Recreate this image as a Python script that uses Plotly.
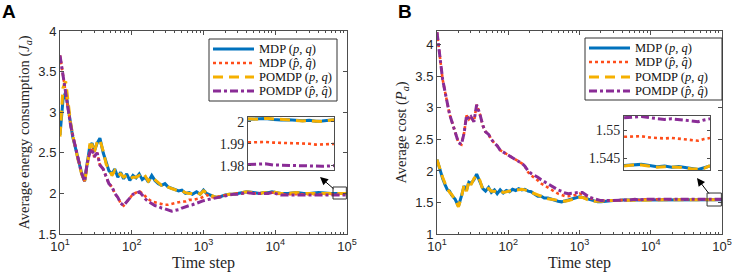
import plotly.graph_objects as go

# ---------------- data ----------------
t = [10, 11, 12, 13, 14, 15, 16, 18, 20, 22, 24, 26, 28, 30, 33, 36, 40, 44, 48, 53,
     58, 64, 70, 77, 85, 94, 104, 115, 127, 140, 155, 170, 190, 210, 235, 260, 290, 320,
     360, 400, 450, 500, 560, 630, 700, 800, 900, 1000, 1100, 1250, 1400, 1600, 1800,
     2000, 2300, 2600, 3000, 3500, 4000, 5000, 6000, 7000, 8000, 9000, 10000, 12000,
     15000, 20000, 25000, 30000, 40000, 50000, 60000, 70000, 80000, 90000, 100000]

# Panel A: average energy consumption
a_mdp = [2.72, 3.15, 3.25, 3.05, 2.85, 2.70, 2.60, 2.42, 2.25, 2.15, 2.35, 2.58, 2.62, 2.52, 2.62, 2.68, 2.50, 2.38, 2.28, 2.24,
         2.30, 2.20, 2.26, 2.18, 2.24, 2.16, 2.22, 2.19, 2.24, 2.17, 2.20, 2.14, 2.22, 2.16, 2.12, 2.10, 2.12, 2.08,
         2.06, 2.05, 2.03, 2.04, 2.00, 2.01, 1.99, 2.02, 1.99, 2.04, 2.00, 1.98, 1.96, 1.95, 1.97,
         1.98, 1.99, 1.99, 2.00, 2.01, 2.02, 2.01, 2.00, 2.01, 2.01, 2.02, 2.01, 2.00,
         2.00, 2.01, 2.00, 2.00, 2.01, 2.00, 2.00, 2.00, 2.00, 2.00, 2.00]
a_mdp_hat = [3.70, 3.45, 3.20, 3.00, 2.85, 2.72, 2.60, 2.42, 2.25, 2.15, 2.38, 2.50, 2.55, 2.45, 2.50, 2.35, 2.30, 2.20, 2.12, 2.08,
             2.00, 1.95, 1.88, 1.85, 1.90, 1.95, 1.99, 2.01, 2.03, 2.00, 1.96, 1.93, 1.90, 1.89, 1.88, 1.87, 1.86, 1.86,
             1.87, 1.88, 1.89, 1.90, 1.90, 1.92, 1.92, 1.93, 1.94, 1.96, 1.98, 1.96, 1.95, 1.96, 1.97,
             1.98, 1.99, 1.99, 2.00, 2.00, 2.01, 2.00, 2.00, 2.00, 2.00, 2.01, 2.00, 1.99,
             1.99, 1.99, 1.99, 1.99, 1.99, 1.99, 1.99, 1.99, 1.99, 1.99, 1.99]
a_pomdp = [2.70, 3.30, 3.38, 3.10, 2.88, 2.72, 2.60, 2.40, 2.24, 2.14, 2.33, 2.60, 2.60, 2.50, 2.64, 2.66, 2.52, 2.36, 2.30, 2.22,
           2.28, 2.22, 2.24, 2.20, 2.22, 2.18, 2.20, 2.20, 2.22, 2.18, 2.21, 2.15, 2.20, 2.17, 2.13, 2.10, 2.11, 2.08,
           2.06, 2.05, 2.03, 2.03, 2.01, 2.00, 2.00, 2.01, 1.99, 2.03, 2.01, 1.98, 1.96, 1.95, 1.97,
           1.98, 1.99, 1.99, 2.00, 2.01, 2.02, 2.01, 2.00, 2.01, 2.00, 2.02, 2.01, 2.00,
           2.00, 2.01, 2.00, 2.00, 2.00, 2.00, 2.00, 2.00, 2.00, 2.00, 2.00]
a_pomdp_hat = [3.70, 3.45, 3.20, 3.00, 2.85, 2.72, 2.60, 2.42, 2.25, 2.15, 2.38, 2.50, 2.55, 2.45, 2.50, 2.35, 2.30, 2.20, 2.12, 2.08,
               2.00, 1.95, 1.88, 1.85, 1.90, 1.95, 1.99, 2.00, 2.02, 1.98, 1.93, 1.90, 1.87, 1.85, 1.84, 1.82, 1.81, 1.80,
               1.78, 1.79, 1.80, 1.82, 1.83, 1.85, 1.86, 1.88, 1.90, 1.91, 1.92, 1.93, 1.94, 1.95, 1.96,
               1.97, 1.98, 1.99, 1.99, 2.00, 2.01, 2.00, 2.00, 2.00, 2.00, 2.01, 2.00, 1.98,
               1.98, 1.98, 1.98, 1.98, 1.98, 1.98, 1.98, 1.98, 1.98, 1.98, 1.98]

# Panel B: average cost
b_mdp = [2.18, 2.00, 1.88, 1.78, 1.70, 1.68, 1.62, 1.55, 1.44, 1.60, 1.76, 1.70, 1.82, 1.80, 1.86, 1.95, 1.83, 1.72, 1.68, 1.74,
         1.66, 1.70, 1.64, 1.70, 1.65, 1.69, 1.67, 1.71, 1.69, 1.72, 1.70, 1.71, 1.68, 1.67, 1.63, 1.60, 1.60, 1.57,
         1.57, 1.55, 1.54, 1.52, 1.51, 1.52, 1.54, 1.56, 1.57, 1.59, 1.58, 1.56, 1.54, 1.52, 1.51,
         1.51, 1.52, 1.52, 1.53, 1.53, 1.54, 1.54, 1.54, 1.54, 1.54, 1.54, 1.54, 1.54,
         1.544, 1.544, 1.544, 1.544, 1.544, 1.544, 1.544, 1.544, 1.544, 1.544, 1.544]
b_mdp_hat = [4.20, 3.75, 3.45, 3.25, 3.05, 2.90, 2.80, 2.60, 2.45, 2.42, 2.60, 2.88, 2.82, 2.86, 2.78, 3.05, 2.90, 2.72, 2.62, 2.58,
             2.50, 2.44, 2.40, 2.33, 2.30, 2.28, 2.25, 2.22, 2.18, 2.15, 2.12, 2.08, 1.98, 1.93, 1.89, 1.85, 1.80, 1.77,
             1.73, 1.70, 1.67, 1.64, 1.62, 1.60, 1.60, 1.61, 1.62, 1.64, 1.63, 1.60, 1.57, 1.55, 1.53,
             1.53, 1.53, 1.53, 1.54, 1.54, 1.54, 1.54, 1.55, 1.54, 1.55, 1.55, 1.55, 1.55,
             1.549, 1.549, 1.549, 1.549, 1.549, 1.549, 1.549, 1.549, 1.549, 1.549, 1.549]
b_pomdp = [2.18, 2.02, 1.90, 1.80, 1.72, 1.66, 1.63, 1.54, 1.43, 1.58, 1.78, 1.68, 1.84, 1.78, 1.88, 1.93, 1.85, 1.70, 1.70, 1.72,
           1.68, 1.68, 1.66, 1.68, 1.66, 1.67, 1.69, 1.70, 1.70, 1.70, 1.71, 1.70, 1.69, 1.66, 1.64, 1.61, 1.59, 1.58,
           1.56, 1.55, 1.54, 1.53, 1.52, 1.52, 1.53, 1.55, 1.57, 1.58, 1.58, 1.55, 1.53, 1.52, 1.52,
           1.51, 1.52, 1.53, 1.53, 1.53, 1.54, 1.54, 1.54, 1.54, 1.54, 1.54, 1.54, 1.54,
           1.544, 1.544, 1.544, 1.544, 1.544, 1.544, 1.544, 1.544, 1.544, 1.544, 1.544]
b_pomdp_hat = [4.20, 3.75, 3.45, 3.25, 3.05, 2.90, 2.80, 2.60, 2.45, 2.42, 2.60, 2.88, 2.82, 2.86, 2.78, 3.05, 2.90, 2.72, 2.62, 2.58,
               2.50, 2.44, 2.40, 2.33, 2.30, 2.28, 2.25, 2.22, 2.18, 2.15, 2.12, 2.08, 2.00, 1.96, 1.93, 1.90, 1.86, 1.83,
               1.79, 1.76, 1.73, 1.70, 1.68, 1.65, 1.64, 1.65, 1.65, 1.66, 1.66, 1.62, 1.58, 1.56, 1.54,
               1.53, 1.53, 1.53, 1.54, 1.54, 1.54, 1.54, 1.55, 1.54, 1.55, 1.55, 1.55, 1.55,
               1.552, 1.552, 1.552, 1.552, 1.552, 1.552, 1.552, 1.552, 1.552, 1.552, 1.552]

# Insets (zoom near the end of the horizon)
t_in = [64000, 67000, 70000, 73000, 76000, 79000, 82000, 85000, 88000, 91000, 94000, 97000, 100000]
ia_mdp = [2.0012, 2.0013, 2.0015, 2.0011, 2.0008, 2.0009, 2.0006, 2.0005, 2.0007, 2.0003, 2.0004, 2.0006, 2.0010]
ia_mdp_hat = [1.9906, 1.9907, 1.9908, 1.9905, 1.9904, 1.9903, 1.9901, 1.9900, 1.9900, 1.9896, 1.9897, 1.9897, 1.9899]
ia_pomdp = [2.0014, 2.0012, 2.0016, 2.0013, 2.0010, 2.0008, 2.0007, 2.0004, 2.0005, 2.0002, 2.0001, 2.0006, 2.0009]
ia_pomdp_hat = [1.9805, 1.9806, 1.9808, 1.9803, 1.9802, 1.9801, 1.9800, 1.9799, 1.9798, 1.9796, 1.9797, 1.9798, 1.9800]

ib_mdp = [1.5437, 1.5438, 1.5439, 1.5437, 1.5435, 1.5436, 1.5434, 1.5435, 1.5433, 1.5432, 1.5430, 1.5433, 1.5436]
ib_mdp_hat = [1.5488, 1.5489, 1.5489, 1.5487, 1.5486, 1.5485, 1.5486, 1.5485, 1.5484, 1.5482, 1.5481, 1.5484, 1.5486]
ib_pomdp = [1.5436, 1.5438, 1.5438, 1.5436, 1.5434, 1.5435, 1.5435, 1.5434, 1.5433, 1.5431, 1.5431, 1.5432, 1.5437]
ib_pomdp_hat = [1.5522, 1.5523, 1.5524, 1.5522, 1.5520, 1.5519, 1.5520, 1.5519, 1.5518, 1.5516, 1.5515, 1.5518, 1.5520]

names = ["MDP (<i>p</i>, <i>q</i>)", "MDP (<i>p̂</i>, <i>q̂</i>)",
         "POMDP (<i>p</i>, <i>q</i>)", "POMDP (<i>p̂</i>, <i>q̂</i>)"]

x_tickvals = [10, 100, 1000, 10000, 100000]
x_ticktext = ["10<sup>1</sup>", "10<sup>2</sup>", "10<sup>3</sup>", "10<sup>4</sup>", "10<sup>5</sup>"]

# ---------------- styles ----------------
BLUE, RED, YEL, PUR = "#0072BD", "#FF4D1A", "#F5B000", "#8A2C96"
styles = [dict(color=BLUE, width=3, dash="solid"),
          dict(color=RED, width=2.6, dash="dot"),
          dict(color=YEL, width=3, dash="10px,6px"),
          dict(color=PUR, width=3, dash="8px,3px,3px,3px")]

W, H = 733, 276
def px(x): return x / W
def py(y): return 1 - y / H

fig = go.Figure()

panels = [
    (t, [a_mdp, a_mdp_hat, a_pomdp, a_pomdp_hat], "x", "y"),
    (t, [b_mdp, b_mdp_hat, b_pomdp, b_pomdp_hat], "x2", "y2"),
    (t_in, [ia_mdp, ia_mdp_hat, ia_pomdp, ia_pomdp_hat], "x3", "y3"),
    (t_in, [ib_mdp, ib_mdp_hat, ib_pomdp, ib_pomdp_hat], "x4", "y4"),
]
for xs, series, xa, ya in panels:
    for nm, ys, st in zip(names, series, styles):
        fig.add_trace(go.Scatter(x=xs, y=ys, mode="lines", name=nm, line=st, xaxis=xa, yaxis=ya,
                                 showlegend=False, hoverinfo="skip"))

SANS = "Liberation Sans"
SERIF = "Liberation Serif"
AX = "#4d4d4d"
TXT = "#262626"
tickfont = dict(family=SANS, size=13, color=TXT)

def main_x(dom, anchor):
    return dict(type="log", domain=dom, anchor=anchor, range=[1, 5],
                tickvals=x_tickvals, ticktext=x_ticktext,
                showline=True, linecolor=AX, linewidth=1,
                mirror="ticks", ticks="inside", ticklen=4, tickcolor=AX,
                minor=dict(ticks="inside", ticklen=2, tickcolor=AX, showgrid=False, dtick="D1"),
                showgrid=False, zeroline=False, tickfont=tickfont, automargin=False,
                ticklabeloverflow="allow",
                title=dict(text="Time step", font=dict(family=SERIF, size=16, color=TXT), standoff=2))

def main_y(dom, anchor, rng, vals, title):
    return dict(domain=dom, anchor=anchor, range=rng, tickvals=vals,
                ticktext=[("%g" % v) for v in vals],
                showline=True, linecolor=AX, linewidth=1, mirror="ticks",
                ticks="inside", ticklen=4, tickcolor=AX, showgrid=False, zeroline=False,
                tickfont=tickfont, automargin=False, ticklabeloverflow="allow",
                title=dict(text=title, font=dict(family=SERIF, size=14.5, color=TXT), standoff=5))

def inset_x(dom, anchor):
    return dict(type="log", domain=dom, anchor=anchor, range=[4.806, 5.0],
                showticklabels=False, showline=True, linecolor=AX, linewidth=1,
                mirror=True, ticks="", showgrid=False, zeroline=False, automargin=False)

def inset_y(dom, anchor, rng, vals, txt):
    return dict(domain=dom, anchor=anchor, range=rng, tickvals=vals, ticktext=txt,
                showline=True, linecolor=AX, linewidth=1, mirror="ticks", ticks="inside",
                ticklen=3, tickcolor=AX, showgrid=False, zeroline=False, automargin=False,
                tickfont=dict(family=SERIF, size=14, color=TXT))

yA = [py(234), py(31)]
fig.update_layout(
    template="none",
    width=W, height=H, margin=dict(l=0, r=0, t=0, b=0, autoexpand=False),
    paper_bgcolor="white", plot_bgcolor="white", showlegend=False,
    xaxis=main_x([px(60), px(347)], "y"),
    yaxis=main_y(yA, "x", [1.5, 4.0], [1.5, 2, 2.5, 3, 3.5, 4],
                 "Average energy consumption (<i>J</i><sub><i>a</i></sub>)"),
    xaxis2=main_x([px(437), px(722)], "y2"),
    yaxis2=main_y(yA, "x2", [1.0, 4.22], [1, 1.5, 2, 2.5, 3, 3.5, 4],
                  "Average cost (<i>P</i><sub><i>a</i></sub>)"),
    xaxis3=inset_x([px(248), px(334)], "y3"),
    yaxis3=inset_y([py(170), py(117)], "x3", [1.978, 2.0022], [1.98, 1.99, 2.0], ["1.98", "1.99", "2"]),
    xaxis4=inset_x([px(624), px(710)], "y4"),
    yaxis4=inset_y([py(170), py(116)], "x4", [1.5429, 1.5525], [1.545, 1.55], ["1.545", "1.55"]),
)

# zoom rectangles on the main axes (data coordinates)
fig.add_shape(type="rect", xref="x", yref="y", x0=63800, x1=98000, y0=1.931, y1=2.079,
              line=dict(color="#333", width=1))
fig.add_shape(type="rect", xref="x2", yref="y2", x0=61700, x1=98000, y0=1.444, y1=1.65,
              line=dict(color="#333", width=1))

# arrows from rectangles to insets
for (tx, ty, axp, ayp) in [(320, 177, 15, 13), (697, 178, 13, 17)]:
    fig.add_annotation(x=px(tx), y=py(ty), xref="paper", yref="paper", ax=axp, ay=ayp,
                       axref="pixel", ayref="pixel", showarrow=True, arrowhead=2,
                       arrowsize=1.6, arrowwidth=1, arrowcolor="#000", text="")

# compact legends (box, line samples, labels)
legends = [dict(box=(209, 39, 337, 101), line_x=(213, 254), ys=[49, 63, 77, 91]),
           dict(box=(585, 38, 722, 100), line_x=(589, 630), ys=[48, 62, 77, 91])]
for lg in legends:
    x0, y0, x1, y1 = lg["box"]
    fig.add_shape(type="rect", xref="paper", yref="paper", x0=px(x0), x1=px(x1), y0=py(y1), y1=py(y0),
                  fillcolor="white", line=dict(color="#333", width=1), layer="above")
    for nm, st, yy in zip(names, styles, lg["ys"]):
        fig.add_shape(type="line", xref="paper", yref="paper", x0=px(lg["line_x"][0]), x1=px(lg["line_x"][1]),
                      y0=py(yy), y1=py(yy), line=st, layer="above")
        fig.add_annotation(x=px(lg["line_x"][1] + 3), y=py(yy), xref="paper", yref="paper", text=nm,
                           showarrow=False, xanchor="left", yanchor="middle",
                           font=dict(family=SERIF, size=12.5, color="#111"))

# panel letters
for (lx, lab) in [(9, "A"), (405, "B")]:
    fig.add_annotation(x=px(lx), y=py(12), xref="paper", yref="paper", text="<b>%s</b>" % lab,
                       showarrow=False, xanchor="center", yanchor="middle",
                       font=dict(family=SANS, size=19, color="#000"))

fig.write_html("out.html", config={"displayModeBar": False},
               post_script="document.body.style.margin='0';")
